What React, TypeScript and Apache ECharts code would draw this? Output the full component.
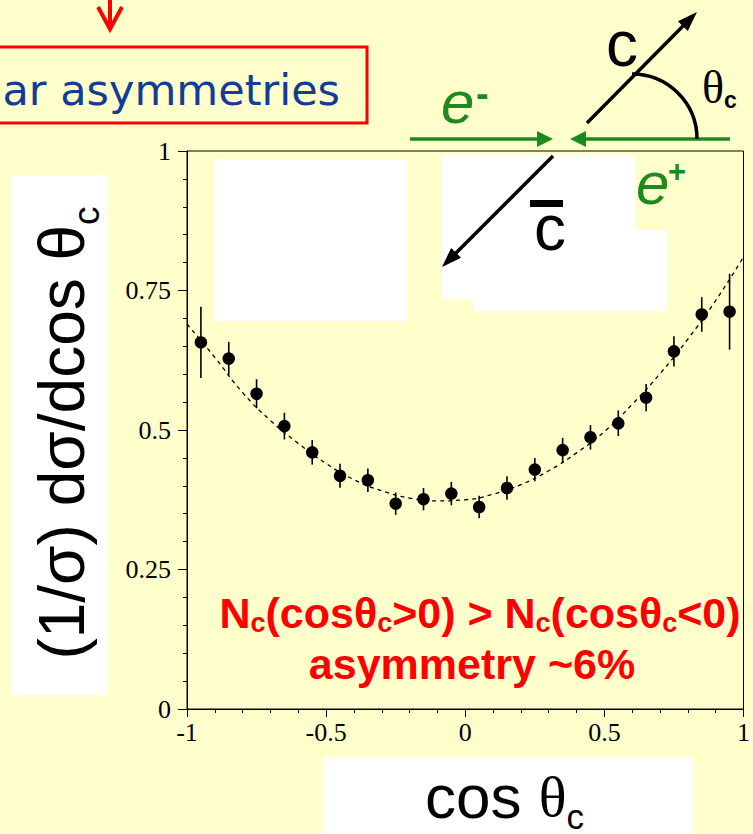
import React, { useEffect, useRef } from "react";
import * as echarts from "echarts";

// ---- data ----
const binCenters = [-0.95, -0.85, -0.75, -0.65, -0.55, -0.45, -0.35, -0.25, -0.15, -0.05, 0.05, 0.15, 0.25, 0.35, 0.45, 0.55, 0.65, 0.75, 0.85, 0.95];
const binValues = [0.657, 0.628, 0.565, 0.507, 0.46, 0.418, 0.41, 0.368, 0.376, 0.386, 0.362, 0.396, 0.429, 0.464, 0.487, 0.512, 0.558, 0.641, 0.707, 0.712];
const binErrors = [0.064, 0.03, 0.026, 0.024, 0.022, 0.0215, 0.021, 0.02, 0.02, 0.021, 0.02, 0.021, 0.021, 0.022, 0.022, 0.023, 0.0245, 0.027, 0.031, 0.068];
const fitCos = [-1, -0.9, -0.8, -0.7, -0.6, -0.5, -0.4, -0.3, -0.2, -0.1, 0, 0.1, 0.2, 0.3, 0.4, 0.5, 0.6, 0.7, 0.8, 0.9, 1];
const fitValues = [0.69, 0.63, 0.567, 0.517, 0.476, 0.44, 0.411, 0.391, 0.378, 0.373, 0.375, 0.385, 0.402, 0.427, 0.459, 0.497, 0.546, 0.601, 0.663, 0.732, 0.81];
const xTickValues = [-1, -0.5, 0, 0.5, 1];
const yTickValues = [0, 0.25, 0.5, 0.75, 1];

const GREEN = "#1d8a1d";
const RED = "#ff0000";
const BG = "#ffffcc";
const LW = 3.5;

function head(tx: number, ty: number, dx: number, dy: number, len: number, half: number) {
  const bx = tx - dx * len;
  const by = ty - dy * len;
  return [
    [tx, ty],
    [bx - dy * half, by + dx * half],
    [bx + dy * half, by - dx * half],
  ];
}

const S2 = Math.SQRT1_2;

const whiteRects = [
  { x: 214, y: 159, width: 193, height: 162 },
  { x: 442, y: 155, width: 193, height: 75 },
  { x: 442, y: 230, width: 225, height: 69 },
  { x: 473, y: 299, width: 194, height: 12 },
  { x: 11, y: 175, width: 97, height: 520 },
  { x: 324, y: 757, width: 369, height: 77 },
];

function buildGraphics() {
  const els: any[] = [];
  whiteRects.forEach((r) => els.push({ type: "rect", shape: r, style: { fill: "#ffffff" } }));

  // red arrow at top
  els.push({ type: "line", shape: { x1: 110, y1: 0, x2: 110, y2: 28 }, style: { stroke: RED, lineWidth: 4 } });
  els.push({ type: "polyline", shape: { points: [[98, 7], [110, 29], [122, 7]] }, style: { stroke: RED, lineWidth: 4, fill: "none" } });
  // red box with title
  els.push({ type: "rect", shape: { x: -5, y: 47, width: 372, height: 76 }, style: { stroke: RED, lineWidth: 3, fill: "none" } });
  els.push({
    type: "text", x: 340, y: 89.5,
    style: { text: "ar asymmetries", font: '43px "DejaVu Sans"', fill: "#123c96", textAlign: "right", textVerticalAlign: "middle" },
  });

  // beams
  els.push({ type: "line", shape: { x1: 410, y1: 139, x2: 540, y2: 139 }, style: { stroke: GREEN, lineWidth: LW } });
  els.push({ type: "polygon", shape: { points: head(553, 139, 1, 0, 16, 8) }, style: { fill: GREEN } });
  els.push({ type: "line", shape: { x1: 730, y1: 139, x2: 583, y2: 139 }, style: { stroke: GREEN, lineWidth: LW } });
  els.push({ type: "polygon", shape: { points: head(570, 139, -1, 0, 16, 8) }, style: { fill: GREEN } });
  // c arrow
  els.push({ type: "line", shape: { x1: 587, y1: 123, x2: 684, y2: 25 }, style: { stroke: "#000", lineWidth: LW } });
  els.push({ type: "polygon", shape: { points: head(697, 12, S2, -S2, 20, 7) }, style: { fill: "#000" } });
  // cbar arrow
  els.push({ type: "line", shape: { x1: 553, y1: 156, x2: 455, y2: 254 }, style: { stroke: "#000", lineWidth: LW } });
  els.push({ type: "polygon", shape: { points: head(442, 267, -S2, S2, 20, 7) }, style: { fill: "#000" } });
  // angle arc
  els.push({
    type: "arc",
    shape: { cx: 632, cy: 139, r: 65, startAngle: -Math.PI / 2, endAngle: 0, clockwise: true },
    style: { stroke: "#000", lineWidth: LW, fill: "none" },
  });

  // diagram texts
  els.push({ type: "text", x: 622, y: 44, style: { text: "c", font: '64px "Liberation Sans"', fill: "#000", textAlign: "center", textVerticalAlign: "middle" } });
  els.push({
    type: "text", x: 702, y: 87,
    style: {
      text: "{t|θ}{s|c}", textAlign: "left", textVerticalAlign: "middle",
      rich: {
        t: { fontSize: 46, fontFamily: "Liberation Serif", fill: "#000", color: "#000" },
        s: { fontSize: 23, fontFamily: "Liberation Sans", fontWeight: "bold", fill: "#000", color: "#000", padding: [25, 0, 0, 0] },
      },
    },
  });
  els.push({ type: "text", x: 441, y: 102, style: { text: "e", font: 'italic 60px "Liberation Sans"', fill: GREEN, textAlign: "left", textVerticalAlign: "middle" } });
  els.push({ type: "text", x: 476, y: 94, style: { text: "-", font: 'bold 38px "Liberation Sans"', fill: GREEN, textAlign: "left", textVerticalAlign: "middle" } });
  els.push({ type: "text", x: 636, y: 183, style: { text: "e", font: 'italic 60px "Liberation Sans"', fill: GREEN, textAlign: "left", textVerticalAlign: "middle" } });
  els.push({ type: "text", x: 668, y: 171, style: { text: "+", font: 'bold 31px "Liberation Sans"', fill: GREEN, textAlign: "left", textVerticalAlign: "middle" } });
  els.push({ type: "text", x: 550, y: 228, style: { text: "c", font: '64px "Liberation Sans"', fill: "#000", textAlign: "center", textVerticalAlign: "middle" } });
  els.push({ type: "rect", shape: { x: 530, y: 200, width: 33, height: 7 }, style: { fill: "#000" } });

  // y axis title
  els.push({
    type: "text", x: 62, y: 433, rotation: Math.PI / 2,
    style: {
      text: "{m|(1/σ) dσ/dcos θ}{s|c}", textAlign: "center", textVerticalAlign: "middle",
      rich: {
        m: { fontSize: 64, lineHeight: 66, fontFamily: "Liberation Sans", fill: "#000", color: "#000" },
        s: { fontSize: 37, lineHeight: 38, fontFamily: "Liberation Sans", fill: "#000", color: "#000", padding: [48, 0, 0, 0] },
      },
    },
  });
  // x axis title
  els.push({
    type: "text", x: 425, y: 796,
    style: {
      text: "{m|cos }{t|θ}{s|c}", textAlign: "left", textVerticalAlign: "middle",
      rich: {
        m: { fontSize: 62, lineHeight: 64, fontFamily: "Liberation Sans", fill: "#000", color: "#000" },
        t: { fontSize: 58, lineHeight: 64, fontFamily: "Liberation Serif", fill: "#000", color: "#000" },
        s: { fontSize: 35, lineHeight: 30, fontFamily: "Liberation Sans", fill: "#000", color: "#000", padding: [40, 0, 0, 0] },
      },
    },
  });
  // red annotation
  const redMain = { fontSize: 43, lineHeight: 44, fontFamily: "Liberation Sans", fontWeight: "bold", fill: RED, color: RED };
  const redSub = { fontSize: 27, lineHeight: 20, fontFamily: "Liberation Sans", fontWeight: "bold", fill: RED, color: RED, padding: [20, 0, 0, 0] };
  els.push({
    type: "text", x: 480, y: 613,
    style: {
      text: "{m|N}{s|c}{m|(cosθ}{s|c}{m|>0) > N}{s|c}{m|(cosθ}{s|c}{m|<0)}",
      textAlign: "center", textVerticalAlign: "middle",
      rich: { m: redMain, s: redSub },
    },
  });
  els.push({
    type: "text", x: 472, y: 664,
    style: { text: "asymmetry ~6%", font: 'bold 43px "Liberation Sans"', fill: RED, textAlign: "center", textVerticalAlign: "middle" },
  });
  return els;
}

export default function App() {
  const ref = useRef<HTMLDivElement>(null);
  useEffect(() => {
    if (!ref.current) return;
    const chart = echarts.init(ref.current, null, { renderer: "svg" });
    const axisLabelStyle = { color: "#000", fontFamily: "Liberation Serif", fontSize: 26 };
    const option: any = {
      animation: false,
      backgroundColor: BG,
      grid: { left: 187, top: 151, width: 564, height: 558, show: true, borderColor: "#000", borderWidth: 1, backgroundColor: "transparent" },
      xAxis: {
        type: "value",
        min: xTickValues[0],
        max: xTickValues[xTickValues.length - 1],
        interval: xTickValues[1] - xTickValues[0],
        axisLine: { show: true, onZero: false, lineStyle: { color: "#000", width: 1 } },
        axisTick: { show: true, inside: false, length: 8, lineStyle: { color: "#000" } },
        minorTick: { show: true, splitNumber: 5, length: 4, lineStyle: { color: "#000" } },
        splitLine: { show: false },
        axisLabel: { ...axisLabelStyle, margin: 10 },
      },
      yAxis: {
        type: "value",
        min: yTickValues[0],
        max: yTickValues[yTickValues.length - 1],
        interval: yTickValues[1] - yTickValues[0],
        axisLine: { show: true, onZero: false, lineStyle: { color: "#000", width: 1 } },
        axisTick: { show: true, inside: false, length: 9, lineStyle: { color: "#000" } },
        minorTick: { show: true, splitNumber: 5, length: 4, lineStyle: { color: "#000" } },
        splitLine: { show: false },
        axisLabel: { ...axisLabelStyle, margin: 16 },
      },
      series: [
        {
          type: "line",
          data: fitCos.map((x, i) => [x, fitValues[i]]),
          smooth: true,
          symbol: "none",
          lineStyle: { color: "#000", width: 1.3, type: [4, 4] },
          z: 2,
        },
        {
          type: "custom",
          data: binCenters.map((x, i) => [x, binValues[i] - binErrors[i], binValues[i] + binErrors[i]]),
          encode: { x: 0, y: [1, 2] },
          renderItem: (params: any, api: any) => {
            const p1 = api.coord([api.value(0), api.value(1)]);
            const p2 = api.coord([api.value(0), api.value(2)]);
            return { type: "line", shape: { x1: p1[0], y1: p1[1], x2: p2[0], y2: p2[1] }, style: { stroke: "#000", lineWidth: 1.6 } };
          },
          z: 3,
        },
        {
          type: "scatter",
          data: binCenters.map((x, i) => [x, binValues[i]]),
          symbol: "circle",
          symbolSize: 12.5,
          itemStyle: { color: "#000", opacity: 1 },
          z: 4,
        },
      ],
      graphic: { elements: buildGraphics() },
    };
    chart.setOption(option);
    return () => chart.dispose();
  }, []);
  return (
    <div
      ref={ref}
      style={{ position: "fixed", left: 0, top: 0, width: 753, height: 834, background: BG }}
    />
  );
}
